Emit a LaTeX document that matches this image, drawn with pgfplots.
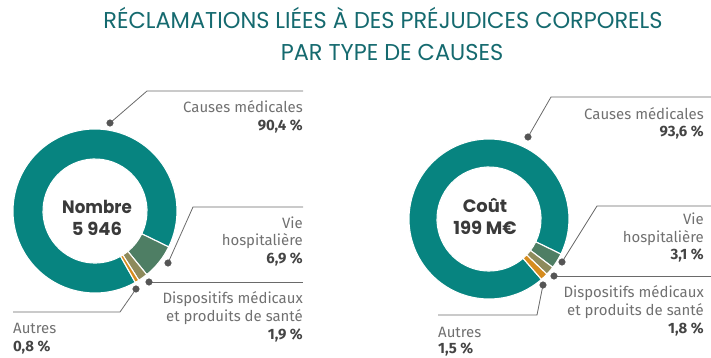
\documentclass[border=0pt]{standalone}
\usepackage{fontspec}
\setmainfont{Fira Sans}
\newfontfamily\titlefont{Poppins}
\usepackage{pgfplots}
\usepackage{pgfplotstable}
\pgfplotsset{compat=1.18}
\usetikzlibrary{calc}
\definecolor{tealA}{HTML}{078480}
\definecolor{vieC}{HTML}{4E7E64}
\definecolor{dispC}{HTML}{8E8B5C}
\definecolor{autC}{HTML}{D68C1E}
\definecolor{titleC}{HTML}{156A6F}
\definecolor{labC}{HTML}{707070}
\definecolor{pctC}{HTML}{444444}
\definecolor{lineC}{HTML}{6A6A6A}
\definecolor{dotC}{HTML}{555555}
\definecolor{ctrC}{HTML}{3A3A3A}

% Nombre
\pgfplotstableread{
seg value
vie 6.9
dispositifs 1.9
autres 0.8
causes 90.4
}\donutA
% Cout
\pgfplotstableread{
seg value
vie 3.1
dispositifs 1.8
autres 1.5
causes 93.6
}\donutB

\newcommand\getv[3]{\pgfplotstablegetelem{#2}{value}\of#1\global\let#3\pgfplotsretval}
\getv\donutA{0}\vAa \getv\donutA{1}\vAb \getv\donutA{2}\vAc \getv\donutA{3}\vAd
\getv\donutB{0}\vBa \getv\donutB{1}\vBb \getv\donutB{2}\vBc \getv\donutB{3}\vBd
\pgfmathsetmacro\Aa{-26}
\pgfmathsetmacro\Ab{\Aa-3.6*\vAa}
\pgfmathsetmacro\Ac{\Ab-3.6*\vAb}
\pgfmathsetmacro\Ad{\Ac-3.6*\vAc}
\pgfmathsetmacro\Ae{\Ad-3.6*\vAd}
\pgfmathsetmacro\Ba{-26}
\pgfmathsetmacro\Bb{\Ba-3.6*\vBa}
\pgfmathsetmacro\Bc{\Bb-3.6*\vBb}
\pgfmathsetmacro\Bd{\Bc-3.6*\vBc}
\pgfmathsetmacro\Be{\Bd-3.6*\vBd}

% cx cy R r a1 a2 color
\newcommand\wedgeseg[7]{%
  \filldraw[fill=#7, draw=white, line width=1.1bp, line join=round]
    ($(axis cs:#1,#2)+(#5:#3bp)$) arc[start angle=#5, end angle=#6, radius=#3bp]
    -- ($(axis cs:#1,#2)+(#6:#4bp)$) arc[start angle=#6, end angle=#5, radius=#4bp] -- cycle;}

\newcommand\lab[4]{\node[anchor=base #3, inner sep=0pt, text=labC, font=\fontsize{15}{18}\selectfont] at (axis cs:#1,#2) {#4};}
\newcommand\pct[4]{\node[anchor=base #3, inner sep=0pt, text=pctC, font=\fontsize{15}{18}\selectfont\bfseries] at (axis cs:#1,#2) {#4};}

\begin{document}
\begin{tikzpicture}
\begin{axis}[x=1bp, y=1bp, xmin=0, xmax=711, ymin=0, ymax=358, hide axis, clip=false,
  at={(0,0)}, anchor=south west]
% donut 1
\wedgeseg{95}{147}{82}{52}{\Ad}{\Ae}{tealA}
\wedgeseg{95}{147}{82}{52}{\Aa}{\Ab}{vieC}
\wedgeseg{95}{147}{82}{52}{\Ab}{\Ac}{dispC}
\wedgeseg{95}{147}{82}{52}{\Ac}{\Ad}{autC}
% donut 2
\wedgeseg{489}{139}{80}{52}{\Bd}{\Be}{tealA}
\wedgeseg{489}{139}{80}{52}{\Ba}{\Bb}{vieC}
\wedgeseg{489}{139}{80}{52}{\Bb}{\Bc}{dispC}
\wedgeseg{489}{139}{80}{52}{\Bc}{\Bd}{autC}

% leader lines
\addplot[lineC, line width=0.8bp, mark=none] coordinates {(110,235) (147,267) (303,267)};
\addplot[lineC, line width=0.8bp, mark=none] coordinates {(168,95) (193,151) (303,151)};
\addplot[lineC, line width=0.8bp, mark=none] coordinates {(149,76) (303,76)};
\addplot[lineC, line width=0.8bp, mark=none] coordinates {(136,69) (120,46) (13,46)};
\addplot[lineC, line width=0.8bp, mark=none] coordinates {(528,221) (551,261) (711,261)};
\addplot[lineC, line width=0.8bp, mark=none] coordinates {(562,96) (597,152) (711,152)};
\addplot[lineC, line width=0.8bp, mark=none] coordinates {(554,82) (711,82)};
\addplot[lineC, line width=0.8bp, mark=none] coordinates {(543,73) (537,43) (438,43)};
\addplot[only marks, mark=*, mark size=3.3bp, mark options={fill=dotC, draw=dotC}]
  coordinates {(110,235) (168,95) (149,76) (136,69) (528,221) (562,96) (554,82) (543,73)};

% title
\node[anchor=base, inner sep=0pt, text=titleC, font=\titlefont\fontsize{23}{27}\selectfont, xscale=0.98] at (axis cs:383,330) {RÉCLAMATIONS LIÉES À DES PRÉJUDICES CORPORELS};
\node[anchor=base, inner sep=0pt, text=titleC, font=\titlefont\fontsize{23}{27}\selectfont, xscale=0.98] at (axis cs:392,298) {PAR TYPE DE CAUSES};

% centre texts
\node[anchor=base, inner sep=0pt, text=ctrC, font=\titlefont\fontsize{18}{22}\selectfont\bfseries, xscale=0.93] at (axis cs:97,145) {Nombre};
\node[anchor=base, inner sep=0pt, text=ctrC, font=\titlefont\fontsize{18}{22}\selectfont\bfseries] at (axis cs:97,123) {5 946};
\node[anchor=base, inner sep=0pt, text=ctrC, font=\titlefont\fontsize{18}{22}\selectfont\bfseries] at (axis cs:485,146) {Coût};
\node[anchor=base, inner sep=0pt, text=ctrC, font=\titlefont\fontsize{18}{22}\selectfont\bfseries] at (axis cs:485,124) {199 M€};

% labels left
\lab{303}{246}{east}{Causes médicales}
\pct{303}{228}{east}{90,4 \%}
\lab{303}{130}{east}{Vie}
\lab{303}{113}{east}{hospitalière}
\pct{303}{95}{east}{6,9 \%}
\lab{303}{55}{east}{Dispositifs médicaux}
\lab{303}{37}{east}{et produits de santé}
\pct{303}{19}{east}{1,9 \%}
\lab{13}{25}{west}{Autres}
\pct{13}{7}{west}{0,8 \%}
% labels right
\lab{704}{239}{east}{Causes médicales}
\pct{704}{222}{east}{93,6 \%}
\lab{704}{134}{east}{Vie}
\lab{704}{116}{east}{hospitalière}
\pct{704}{99}{east}{3,1 \%}
\lab{704}{61}{east}{Dispositifs médicaux}
\lab{704}{43}{east}{et produits de santé}
\pct{704}{25}{east}{1,8 \%}
\lab{438}{21}{west}{Autres}
\pct{438}{5}{west}{1,5 \%}
\end{axis}
\pgfresetboundingbox
\path[use as bounding box] (0,0) rectangle (711bp,358bp);
\end{tikzpicture}
\end{document}
